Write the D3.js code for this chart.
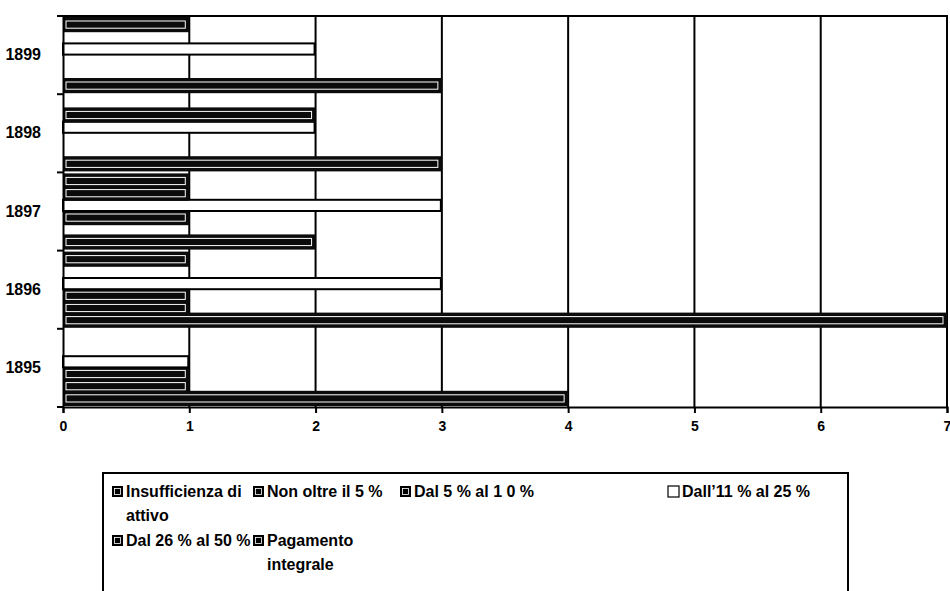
<!DOCTYPE html>
<html><head><meta charset="utf-8">
<script src="https://cdn.jsdelivr.net/npm/d3@7"></script>
<style>body{margin:0;background:#fff}svg{display:block}</style>
</head><body>
<svg id="c" width="950" height="591"></svg>
<script>
const years = ["1895","1896","1897","1898","1899"];
const seriesNames = ["Insufficienza di attivo","Non oltre il 5 %","Dal 5 % al 10 %","Dall'11 % al 25 %","Dal 26 % al 50 %","Pagamento integrale"];
const legendLabels = [["Insufficienza di","attivo"],["Non oltre il 5 %"],["Dal 5 % al 1 0  %"],["Dall\u201911 % al 25 %"],["Dal 26 % al 50 %"],["Pagamento","integrale"]];
const insufficienza = [4,7,2,3,3];
const nonOltre5 = [1,1,0,0,0];
const dal5al10 = [1,1,1,0,0];
const dal11al25 = [1,3,3,2,2];
const dal26al50 = [0,0,1,2,0];
const pagamento = [0,1,1,0,1];
const seriesValues = [insufficienza,nonOltre5,dal5al10,dal11al25,dal26al50,pagamento];
const seriesWhite = [false,false,false,true,false,false];
const xTicks = [0,1,2,3,4,5,6,7];

const svg = d3.select("#c");
const L=63,R=947,T=16,B=407;
const x = d3.scaleLinear().domain([0,7]).range([L,R]);
const y = d3.scaleBand().domain(years.slice().reverse()).range([T,B]);
const inner = d3.scaleBand().domain(d3.range(6).reverse()).range([2.5,y.bandwidth()-2.5]);

// gridlines
svg.append("g").selectAll("line").data(xTicks.slice(1)).join("line")
  .attr("x1",d=>x(d)).attr("x2",d=>x(d)).attr("y1",T).attr("y2",B)
  .attr("stroke","#000").attr("stroke-width",2);
svg.append("line").attr("x1",L).attr("x2",R+1).attr("y1",T).attr("y2",T).attr("stroke","#000").attr("stroke-width",2);

// bars
const data=[];
years.forEach((yr,i)=>seriesValues.forEach((arr,s)=>data.push({yr,s,v:arr[i]})));
const g = svg.append("g");
data.filter(d=>d.v>0).forEach(d=>{
  const by = y(d.yr)+inner(d.s), bh = inner.bandwidth(), bw = x(d.v)-x(0);
  if(seriesWhite[d.s]){
    g.append("rect").attr("x",x(0)).attr("y",by+0.5).attr("width",bw-1).attr("height",bh-1)
      .attr("fill","#fff").attr("stroke","#000").attr("stroke-width",2);
  } else {
    g.append("rect").attr("x",x(0)).attr("y",by-1.5).attr("width",bw).attr("height",bh+3)
      .attr("fill","#0b0b0b");
    g.append("rect").attr("x",x(0)+3).attr("y",by+2.5).attr("width",bw-7).attr("height",bh-5)
      .attr("fill","none").attr("stroke","#fff").attr("stroke-width",1);
  }
});

// axes
const xa = svg.append("g").attr("transform",`translate(0,${B})`)
  .call(d3.axisBottom(x).tickValues(xTicks).tickSize(6).tickFormat(d3.format("d")));
xa.select(".domain").attr("stroke","#000").attr("stroke-width",2);
xa.selectAll(".tick line").attr("stroke","#000").attr("stroke-width",2);
xa.selectAll("text").attr("font-family","Liberation Sans, Arial, sans-serif").attr("font-weight","bold")
  .attr("font-size",14).attr("fill","#000").attr("dy","1.1em");
const ya = svg.append("g").attr("transform",`translate(${L},0)`)
  .call(d3.axisLeft(y).tickSize(0).tickPadding(22));
ya.select(".domain").attr("stroke","#000").attr("stroke-width",2);
ya.selectAll("text").attr("font-family","Liberation Sans, Arial, sans-serif").attr("font-weight","bold")
  .attr("font-size",16).attr("fill","#000");
// band boundary ticks
const bounds = years.map(yr=>y(yr)).concat([B]);
svg.append("g").selectAll("line").data(bounds).join("line")
  .attr("x1",L-6).attr("x2",L).attr("y1",d=>d).attr("y2",d=>d).attr("stroke","#000").attr("stroke-width",2);

// legend
const lg = svg.append("g");
lg.append("rect").attr("x",103).attr("y",473).attr("width",745).attr("height",140)
  .attr("fill","#fff").attr("stroke","#000").attr("stroke-width",2);
const cols=[112,253,400,668], rows=[492,541];
const pos = [[0,0],[1,0],[2,0],[3,0],[0,1],[1,1]];
legendLabels.forEach((lines,i)=>{
  const cx=cols[pos[i][0]], cy=rows[pos[i][1]];
  if(seriesWhite[i]){
    lg.append("rect").attr("x",cx).attr("y",cy-6).attr("width",11).attr("height",11).attr("fill","#fff").attr("stroke","#000").attr("stroke-width",1.2);
  } else {
    lg.append("rect").attr("x",cx).attr("y",cy-6).attr("width",11).attr("height",11).attr("fill","#000");
    lg.append("rect").attr("x",cx+2.5).attr("y",cy-3.5).attr("width",6).attr("height",6).attr("fill","none").attr("stroke","#fff").attr("stroke-width",0.8);
  }
  const t = lg.append("text").attr("x",cx+14).attr("y",cy+5)
    .attr("font-family","Liberation Sans, Arial, sans-serif").attr("font-weight","bold")
    .attr("font-size",16).attr("fill","#000");
  lines.forEach((ln,j)=>t.append("tspan").attr("x",cx+14).attr("dy",j?24:0).text(ln));
});
</script>
</body></html>
